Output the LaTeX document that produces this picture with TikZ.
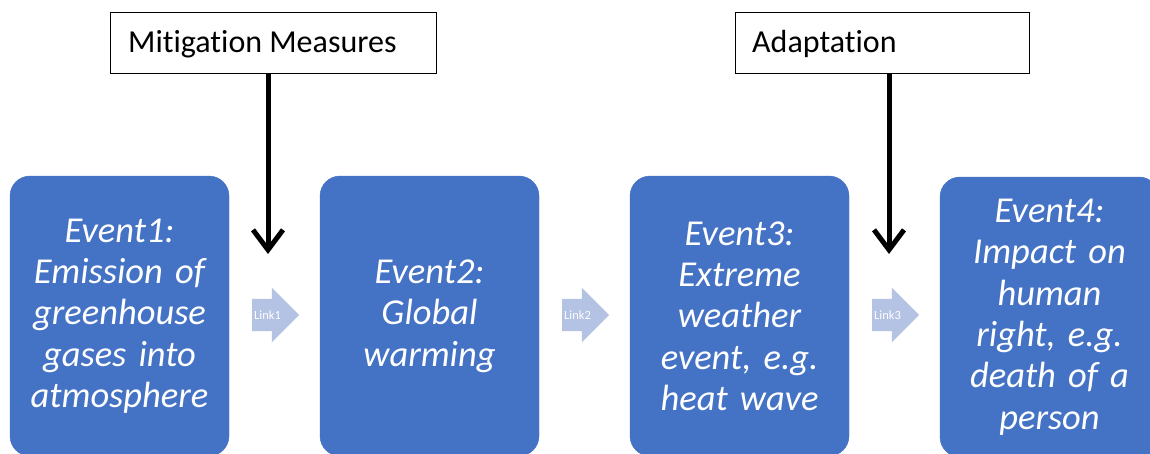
\documentclass[tikz,border=0pt]{standalone}
\usepackage{fontspec}
\setmainfont{Carlito}[Ligatures={NoCommon}]
\usetikzlibrary{shapes.arrows,arrows.meta}
\definecolor{evblue}{RGB}{68,114,196}
\definecolor{linkblue}{RGB}{180,194,228}
\tikzset{
  event/.style={fill=evblue, draw=evblue, rounded corners=20pt, minimum width=219pt, minimum height=280pt,
    text width=215pt, align=center, text=white, inner sep=0pt,
    font=\fontsize{36.5}{41.3}\selectfont\itshape},
  linkarrow/.style={single arrow, fill=linkblue, draw=none, minimum height=47pt, minimum width=54pt,
    single arrow head extend=11pt, inner xsep=0pt, inner ysep=0pt, text=white, font=\fontsize{12.5}{14}\selectfont,
    text height=20pt, text depth=12pt},
  topbox/.style={draw=black, line width=0.8pt, fill=white},
  toptext/.style={anchor=west, inner sep=0pt, font=\fontsize{32}{38}\selectfont},
  bigarrow/.style={line width=5pt, -{Straight Barb[length=20pt 0, width=30pt 0, line width=5pt]}}
}
\begin{document}
\begin{tikzpicture}[x=1pt, y=-1pt]
\useasboundingbox (0,0) rectangle (1150,453);
\clip (0,0) rectangle (1150,453);
\fill[white] (0,0) rectangle (1150,453);
% event boxes
\node[event] (e1) at (119.5,316) {Event1:\\Emission of\\greenhouse\\gases into\\atmosphere};
\node[event] (e2) at (429.5,316) {Event2:\\Global\\warming};
\node[event] (e3) at (739.5,316) {Event3:\\Extreme\\weather\\event, e.g.\\heat wave};
\node[event] (e4) at (1049.5,317) {Event4:\\Impact on\\human\\right, e.g.\\death of a\\person};
% link arrows
\node[linkarrow] (l1) at (267.5,315) {Link1\hspace{12pt}};
\node[linkarrow] (l2) at (577.5,315) {Link2\hspace{12pt}};
\node[linkarrow] (l3) at (887.5,315) {Link3\hspace{12pt}};
% top boxes
\draw[topbox] (110,12) rectangle (436,73);
\node[toptext] (mit) at (128,44) {Mitigation Measures};
\draw[topbox] (735,12) rectangle (1029,73);
\node[toptext] (ada) at (752,44) {Adaptation};
\coordinate (mitb) at (268,73);
\coordinate (adab) at (889,73);
\coordinate (tipA) at (268,254);
\coordinate (tipB) at (889,254);
\draw[bigarrow] (mitb) -- (tipA);
\draw[bigarrow] (adab) -- (tipB);
\end{tikzpicture}
\end{document}
